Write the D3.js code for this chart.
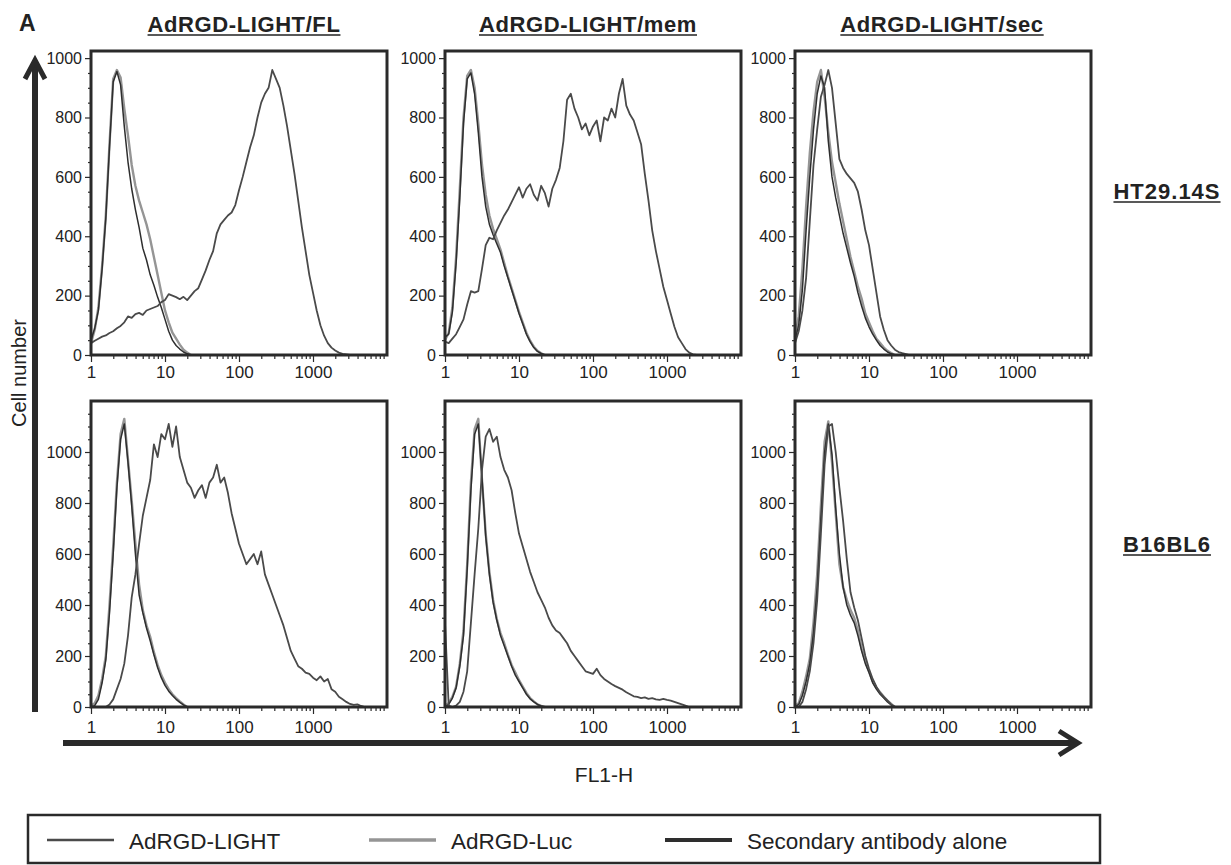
<!DOCTYPE html>
<html>
<head>
<meta charset="utf-8">
<script src="https://cdnjs.cloudflare.com/ajax/libs/d3/7.8.5/d3.min.js"></script>
<style>
  body { margin: 0; background: #fff; }
  svg { font-family: "Liberation Sans", Arial, Helvetica, sans-serif; }
</style>
</head>
<body>
<div id="chart-area"></div>
<script>
// Flow cytometry histograms, FL1-H (log) vs cell number

var width = 1231, height = 865;

// FL1-H channel intensities shared by every histogram (20 per decade)
var fl1 = [1, 1.122, 1.259, 1.413, 1.585, 1.778, 1.995, 2.239, 2.512, 2.818,
  3.162, 3.548, 3.981, 4.467, 5.012, 5.623, 6.310, 7.079, 7.943, 8.913,
  10.0, 11.22, 12.59, 14.13, 15.85, 17.78, 19.95, 22.39, 25.12, 28.18,
  31.62, 35.48, 39.81, 44.67, 50.12, 56.23, 63.10, 70.79, 79.43, 89.13,
  100, 112.2, 125.9, 141.3, 158.5, 177.8, 199.5, 223.9, 251.2, 281.8,
  316.2, 354.8, 398.1, 446.7, 501.2, 562.3, 631.0, 707.9, 794.3, 891.3,
  1000, 1122, 1259, 1413, 1585, 1778, 1995, 2239, 2512, 2818,
  3162, 3548, 3981, 4467, 5012, 5623];

var panelTitles = ["AdRGD-LIGHT/FL", "AdRGD-LIGHT/mem", "AdRGD-LIGHT/sec"];
var cellLines = ["HT29.14S", "B16BL6"];
var seriesNames = ["AdRGD-LIGHT", "AdRGD-Luc", "Secondary antibody alone"];
var xTicks = [1, 10, 100, 1000];
var yTicks = [0, 200, 400, 600, 800, 1000];

// HT29.14S
var htLightFL = [40, 48, 55, 62, 66, 74, 80, 90, 98, 110, 130, 125, 138, 142, 135, 150, 155, 160, 165, 178,
  185, 205, 200, 195, 188, 196, 185, 200, 215, 225, 255, 285, 320, 350, 410, 440, 455, 470, 480, 505,
  555, 600, 650, 700, 740, 800, 850, 880, 900, 960, 930, 900, 840, 770, 690, 610, 520, 430, 350, 270,
  210, 150, 100, 65, 40, 25, 15, 8, 4, 2, 0];
var htLucFL = [40, 85, 160, 300, 470, 710, 930, 960, 935, 830, 740, 640, 570, 520, 480, 440, 390, 330, 270, 210,
  150, 110, 75, 55, 35, 18, 8, 0];
var htSecFL = [50, 90, 150, 290, 460, 700, 920, 955, 910, 770, 650, 560, 490, 430, 360, 320, 270, 235, 195, 160,
  120, 80, 50, 32, 20, 10, 4, 0];

var htLightMem = [45, 40, 55, 70, 95, 120, 170, 215, 210, 215, 290, 370, 395, 390, 420, 445, 470, 490, 515, 540,
  565, 530, 560, 575, 540, 520, 570, 545, 500, 560, 590, 630, 720, 860, 880, 830, 800, 760, 780, 740,
  770, 790, 720, 800, 790, 830, 800, 880, 930, 840, 810, 790, 750, 710, 610, 520, 420, 350, 290, 230,
  185, 140, 95, 60, 40, 20, 8, 2, 0];
var htLucMem = [50, 75, 160, 330, 560, 800, 940, 960, 900, 780, 640, 540, 470, 425, 390, 355, 310, 265, 225, 185,
  145, 110, 75, 48, 28, 14, 6, 0];
var htSecMem = [60, 70, 145, 310, 530, 780, 930, 950, 880, 750, 600, 500, 440, 405, 375, 345, 300, 260, 220, 180,
  140, 105, 70, 45, 25, 12, 5, 0];

var htLightSec = [40, 80, 150, 260, 450, 640, 760, 870, 910, 960, 900, 780, 660, 630, 610, 595, 580, 550, 490, 420,
  370, 290, 210, 130, 85, 50, 32, 18, 10, 6, 3, 0];
var htLucSec = [60, 130, 290, 500, 680, 820, 920, 960, 870, 750, 650, 580, 510, 450, 390, 330, 280, 230, 190, 140,
  110, 80, 55, 40, 25, 14, 7, 0];
var htSecSec = [50, 100, 220, 420, 600, 760, 880, 940, 900, 720, 600, 530, 470, 410, 360, 310, 265, 210, 165, 125,
  95, 70, 50, 32, 20, 10, 4, 0];

// B16BL6
var bLightFL = [0, 0, 0, 0, 0, 10, 30, 70, 110, 170, 280, 430, 520, 640, 750, 820, 890, 1030, 980, 1070,
  1050, 1110, 1020, 1100, 980, 930, 880, 860, 820, 850, 870, 820, 880, 900, 950, 880, 900, 840, 760, 700,
  640, 600, 560, 580, 600, 560, 610, 520, 480, 440, 400, 360, 320, 270, 220, 190, 160, 150, 135, 130,
  115, 105, 120, 100, 110, 70, 60, 40, 30, 20, 12, 8, 10, 4, 0];
var bLucFL = [5, 15, 45, 110, 200, 400, 630, 880, 1070, 1130, 970, 810, 640, 480, 380, 320, 275, 215, 165, 125,
  95, 70, 50, 35, 22, 10, 0];
var bSecFL = [0, 5, 30, 95, 185, 370, 600, 860, 1050, 1110, 960, 790, 600, 440, 370, 310, 260, 205, 155, 115,
  85, 62, 45, 30, 18, 8, 0];

var bLightMem = [330, 5, 0, 5, 20, 60, 140, 330, 520, 700, 930, 1060, 1090, 1040, 1060, 980, 930, 900, 850, 760,
  680, 630, 580, 530, 490, 450, 420, 390, 350, 320, 300, 290, 270, 250, 220, 200, 180, 160, 140, 135,
  130, 150, 125, 110, 100, 90, 82, 75, 68, 58, 50, 42, 40, 35, 38, 32, 35, 30, 28, 32,
  28, 25, 20, 15, 10, 5, 0];
var bLucMem = [5, 15, 40, 80, 170, 300, 560, 880, 1090, 1130, 890, 680, 530, 420, 345, 290, 250, 205, 165, 135,
  105, 80, 55, 35, 22, 10, 4, 0];
var bSecMem = [0, 10, 35, 75, 160, 280, 540, 850, 1070, 1110, 900, 670, 520, 410, 340, 280, 240, 200, 160, 125,
  100, 75, 50, 32, 20, 10, 4, 0];

var bLightSec = [0, 0, 20, 70, 140, 250, 420, 680, 950, 1100, 1110, 1000, 860, 730, 580, 450, 390, 340, 270, 200,
  150, 110, 80, 55, 40, 25, 10, 0];
var bLucSec = [5, 15, 60, 120, 190, 330, 520, 790, 1040, 1120, 960, 760, 560, 470, 420, 380, 350, 300, 230, 180,
  140, 100, 75, 58, 40, 25, 12, 0];
var bSecSec = [0, 10, 45, 100, 170, 290, 470, 740, 1000, 1110, 990, 780, 600, 470, 400, 360, 330, 280, 220, 170,
  135, 95, 70, 50, 35, 20, 8, 0];

var panels = [
  {row: 0, col: 0, light: htLightFL, luc: htLucFL, sec: htSecFL},
  {row: 0, col: 1, light: htLightMem, luc: htLucMem, sec: htSecMem},
  {row: 0, col: 2, light: htLightSec, luc: htLucSec, sec: htSecSec},
  {row: 1, col: 0, light: bLightFL, luc: bLucFL, sec: bSecFL},
  {row: 1, col: 1, light: bLightMem, luc: bLucMem, sec: bSecMem},
  {row: 1, col: 2, light: bLightSec, luc: bLucSec, sec: bSecSec}
];

// layout
var colX = [91, 445, 795], panelW = 296;
var rowTop = [51, 401], rowBase = [355, 707], rowMax = [1024, 1200];
var xLabelPad = [4, 7];
var ink = "#2a2a2a";
var styles = {
  luc: {color: "#959595", w: 2.4},
  sec: {color: "#2e2e2e", w: 1.5},
  light: {color: "#4a4a4a", w: 1.8}
};

var minorX = [];
[1, 10, 100, 1000].forEach(function(d) {
  for (var m = 2; m <= 9; m++) minorX.push(d * m);
});
var minorY = d3.range(50, 1200, 50).filter(function(v) { return v % 200 != 0; });

var svg = d3.select("#chart-area").append("svg")
  .attr("width", width)
  .attr("height", height);
svg.append("rect").attr("width", width).attr("height", height).attr("fill", "#fff");

function styleAxis(sel, size) {
  sel.select(".domain").remove();
  sel.selectAll("line").attr("stroke", ink).attr("stroke-width", 1.2);
  sel.selectAll("text")
    .attr("font-size", size || 16)
    .attr("font-family", "'Liberation Sans', Arial, sans-serif")
    .attr("fill", "#222");
}

panels.forEach(function(p) {
  var x = d3.scaleLog().domain([1, 10000]).range([colX[p.col], colX[p.col] + panelW]);
  var y = d3.scaleLinear().domain([0, rowMax[p.row]]).range([rowBase[p.row], rowTop[p.row]]);
  var g = svg.append("g");

  // x axis: minor then major ticks
  g.append("g")
    .attr("transform", "translate(0," + rowBase[p.row] + ")")
    .call(d3.axisBottom(x).tickValues(minorX).tickSize(4).tickFormat(""))
    .call(styleAxis);
  g.append("g")
    .attr("transform", "translate(0," + rowBase[p.row] + ")")
    .call(d3.axisBottom(x).tickValues(xTicks).tickSize(7).tickPadding(xLabelPad[p.row]).tickFormat(d3.format("d")))
    .call(styleAxis, 17);

  // y axis
  g.append("g")
    .attr("transform", "translate(" + colX[p.col] + ",0)")
    .call(d3.axisLeft(y).tickValues(minorY.filter(function(v) { return v < rowMax[p.row]; })).tickSize(3).tickFormat(""))
    .call(styleAxis);
  g.append("g")
    .attr("transform", "translate(" + colX[p.col] + ",0)")
    .call(d3.axisLeft(y).tickValues(yTicks).tickSize(6).tickPadding(3).tickFormat(d3.format("d")))
    .call(styleAxis, 16);

  var line = d3.line()
    .x(function(d, i) { return x(fl1[i]); })
    .y(function(d) { return y(d); });

  ["luc", "sec", "light"].forEach(function(key) {
    g.append("path")
      .datum(p[key])
      .attr("d", line)
      .attr("fill", "none")
      .attr("stroke", styles[key].color)
      .attr("stroke-width", styles[key].w)
      .attr("stroke-linejoin", "round");
  });

  g.append("rect")
    .attr("x", colX[p.col])
    .attr("y", rowTop[p.row])
    .attr("width", panelW)
    .attr("height", rowBase[p.row] - rowTop[p.row])
    .attr("fill", "none")
    .attr("stroke", ink)
    .attr("stroke-width", 3);
});

// underlined bold labels
function underlined(txt, cx, by, size, spacing) {
  var t = svg.append("text")
    .attr("x", cx)
    .attr("y", by)
    .attr("text-anchor", "middle")
    .attr("font-weight", "bold")
    .attr("font-size", size)
    .attr("letter-spacing", spacing)
    .attr("fill", "#222")
    .text(txt);
  var b = t.node().getBBox();
  svg.append("line")
    .attr("x1", b.x).attr("x2", b.x + b.width)
    .attr("y1", by + 3).attr("y2", by + 3)
    .attr("stroke", "#222").attr("stroke-width", 1.6);
}

var titleX = [244, 588, 942];
panelTitles.forEach(function(t, i) { underlined(t, titleX[i], 32, 22, 0.6); });
var rowLabelY = [199, 552];
cellLines.forEach(function(t, i) { underlined(t, 1167, rowLabelY[i], 22, 1); });

svg.append("text")
  .attr("x", 19).attr("y", 31)
  .attr("font-weight", "bold").attr("font-size", 23).attr("fill", "#222")
  .text("A");

// axis arrows
svg.append("line").attr("x1", 35).attr("x2", 35).attr("y1", 712).attr("y2", 62)
  .attr("stroke", ink).attr("stroke-width", 6);
svg.append("path").attr("d", "M25,79 L35,60 L45,79")
  .attr("fill", "none").attr("stroke", ink).attr("stroke-width", 5);
svg.append("line").attr("x1", 63).attr("x2", 1076).attr("y1", 743).attr("y2", 743)
  .attr("stroke", ink).attr("stroke-width", 6);
svg.append("path").attr("d", "M1059,731 L1078,743 L1059,755")
  .attr("fill", "none").attr("stroke", ink).attr("stroke-width", 5);

svg.append("text")
  .attr("transform", "translate(26,373) rotate(-90)")
  .attr("text-anchor", "middle")
  .attr("font-size", 20).attr("fill", "#222")
  .text("Cell number");

svg.append("text")
  .attr("x", 604).attr("y", 782)
  .attr("text-anchor", "middle")
  .attr("font-size", 21).attr("fill", "#222")
  .text("FL1-H");

// legend
svg.append("rect")
  .attr("x", 28).attr("y", 815).attr("width", 1072).attr("height", 48)
  .attr("fill", "none").attr("stroke", ink).attr("stroke-width", 2.5);

var legendLineX = [47, 369, 665];
var legendKeys = ["light", "luc", "sec"];
var legendW = [2.5, 3.5, 4];
seriesNames.forEach(function(name, i) {
  svg.append("line")
    .attr("x1", legendLineX[i]).attr("x2", legendLineX[i] + 67)
    .attr("y1", 840).attr("y2", 840)
    .attr("stroke", styles[legendKeys[i]].color)
    .attr("stroke-width", legendW[i]);
  svg.append("text")
    .attr("x", legendLineX[i] + 82).attr("y", 849)
    .attr("font-size", 22.5).attr("fill", "#222")
    .text(name);
});
</script>
</body>
</html>
